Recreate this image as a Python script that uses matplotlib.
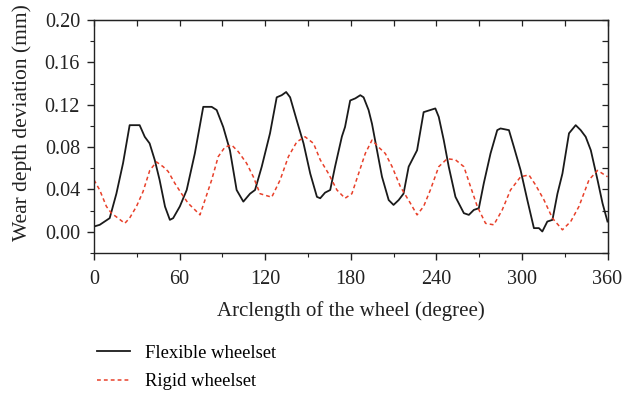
import matplotlib
matplotlib.use("Agg")
import matplotlib.pyplot as plt
from matplotlib.ticker import MultipleLocator

plt.rcParams['font.family'] = ['Liberation Serif', 'DejaVu Serif']

flex_x = [0, 4, 11, 15.7, 20.4, 25, 32, 35.6, 39, 42.6, 46, 49.8, 53.2, 55.5, 60.2, 65, 70.7,
          76.6, 82.5, 86, 90.6, 95.3, 100, 104.7, 109.4, 112.9, 117.6, 123.4, 128.1, 131.6,
          134.7, 137.5, 142.2, 146.9, 151.6, 156.3, 158.6, 162, 165.6, 169, 173.8, 176,
          179.6, 183.2, 186.7, 189, 192.5, 194.9, 198.4, 201.9, 206.6, 210, 213.6, 217,
          220.6, 226.5, 231.1, 235.8, 239.3, 241.7, 245.2, 248.7, 253.4, 259.3, 262.8,
          266.3, 269.8, 273.3, 278, 282.7, 285, 290.9, 294.4, 299.1, 303.8, 308.4, 311.9,
          314.3, 317.8, 321.4, 324.9, 328.4, 333, 337.7, 341.2, 344.7, 348.3, 353, 356.5, 360]
flex_y = [0.005, 0.0066, 0.0129, 0.036, 0.065, 0.1007, 0.1007, 0.0897, 0.0835, 0.0678, 0.049,
          0.0238, 0.0113, 0.0129, 0.024, 0.0395, 0.074, 0.118, 0.118, 0.115, 0.099, 0.077,
          0.0395, 0.0285, 0.036, 0.0395, 0.0615, 0.093, 0.127, 0.129, 0.132, 0.127, 0.105,
          0.0835, 0.055, 0.033, 0.0317, 0.037, 0.0395, 0.0615, 0.090, 0.099, 0.124, 0.126,
          0.129, 0.127, 0.115, 0.102, 0.077, 0.052, 0.030, 0.0254, 0.030, 0.036, 0.0615,
          0.077, 0.113, 0.115, 0.1165, 0.1085, 0.0866, 0.0615, 0.033, 0.0176, 0.016,
          0.0207, 0.0223, 0.046, 0.074, 0.096, 0.0976, 0.096, 0.080, 0.058, 0.030, 0.0035,
          0.0035, 0.0003, 0.0097, 0.0113, 0.036, 0.055, 0.093, 0.1007, 0.096, 0.0897, 0.077,
          0.049, 0.027, 0.0097]

rigid_x = [0, 4, 8.7, 12.2, 16.9, 21.6, 25, 29.8, 34.4, 39.1, 43.8, 48.5, 52, 56.7, 61.4, 66,
           70.8, 74.3, 77.8, 82.5, 87.1, 91.8, 96.5, 101.2, 107, 111.7, 116.4, 124.6, 130.5,
           136.3, 142.2, 148, 153.9, 158.6, 164.4, 170.3, 176, 180.8, 185.5, 190.2, 194.9,
           199.5, 204.2, 209, 214.8, 221.8, 226.5, 231.1, 235.8, 241.7, 247.6, 253.4, 259.3,
           264, 268.7, 274.5, 280.3, 286.2, 292, 299.1, 304.9, 309.6, 315.5, 321.4, 328.4,
           334.2, 340, 347, 353, 360]
rigid_y = [0.049, 0.0395, 0.024, 0.0176, 0.0129, 0.008, 0.013, 0.024, 0.038, 0.058, 0.066,
           0.0615, 0.057, 0.0458, 0.036, 0.027, 0.0207, 0.016, 0.030, 0.049, 0.071, 0.080,
           0.082, 0.0756, 0.0647, 0.052, 0.036, 0.0327, 0.049, 0.071, 0.085, 0.0897, 0.0835,
           0.068, 0.055, 0.0395, 0.0317, 0.036, 0.055, 0.074, 0.0866, 0.080, 0.074, 0.0615,
           0.0426, 0.027, 0.016, 0.024, 0.0395, 0.0615, 0.069, 0.068, 0.0615, 0.0426, 0.024,
           0.008, 0.0066, 0.0207, 0.0395, 0.052, 0.0537, 0.0442, 0.030, 0.0129, 0.0019,
           0.0097, 0.024, 0.049, 0.058, 0.052]

xticks = [0, 60, 120, 180, 240, 300, 360]
yticks = [0.00, 0.04, 0.08, 0.12, 0.16, 0.20]
ytick_labels = ["0.00", "0.04", "0.08", "0.12", "0.16", "0.20"]

fig = plt.figure(figsize=(6.22, 3.96), dpi=100)
ax = fig.add_axes([0.1511, 0.3611, 0.8256, 0.5884])

l1, = ax.plot(flex_x, flex_y, color='#1a1a1a', lw=1.3, label='Flexible wheelset')
l2, = ax.plot(rigid_x, rigid_y, color='#e8402a', lw=1.1, ls=(0, (2.5, 2)), label='Rigid wheelset')

ax.set_xlim(0, 360)
ax.set_ylim(-0.02, 0.20)
ax.set_xticks(xticks)
ax.set_yticks(yticks)
ax.set_yticklabels(ytick_labels)
ax.xaxis.set_minor_locator(MultipleLocator(30))
ax.yaxis.set_minor_locator(MultipleLocator(0.02))

for s in ax.spines.values():
    s.set_linewidth(1.0)
    s.set_color('#222222')

ax.tick_params(axis='both', which='major', labelsize=14.5, length=5, width=1.0, colors='#222222')
ax.tick_params(axis='both', which='minor', length=3, width=0.8, colors='#222222')
ax.tick_params(axis='both', which='both', direction='out')
ax.tick_params(axis='x', which='major', pad=7)
ax.tick_params(axis='y', which='major', pad=5)

# mirrored ticks inside on top and right
axt = ax.secondary_xaxis('top')
axt.set_xticks(xticks)
axt.xaxis.set_minor_locator(MultipleLocator(30))
axt.tick_params(which='both', direction='in', labeltop=False, length=4, width=0.9, colors='#222222')
axr = ax.secondary_yaxis('right')
axr.set_yticks(yticks)
axr.yaxis.set_minor_locator(MultipleLocator(0.02))
axr.tick_params(which='both', direction='in', labelright=False, length=4, width=0.9, colors='#222222')

ax.set_xlabel('Arclength of the wheel (degree)', fontsize=15, color='#222222', labelpad=9)
ax.set_ylabel('Wear depth deviation (mm)', fontsize=15.5, color='#222222')
ax.yaxis.set_label_coords(-0.12, 0.56)

fig.legend(handles=[l1, l2], loc='upper left', bbox_to_anchor=(0.144, 0.148),
           frameon=False, fontsize=13.4, handlelength=1.77, handletextpad=0.8,
           labelspacing=0.62, borderaxespad=0)

fig.savefig('out.png', dpi=100)
